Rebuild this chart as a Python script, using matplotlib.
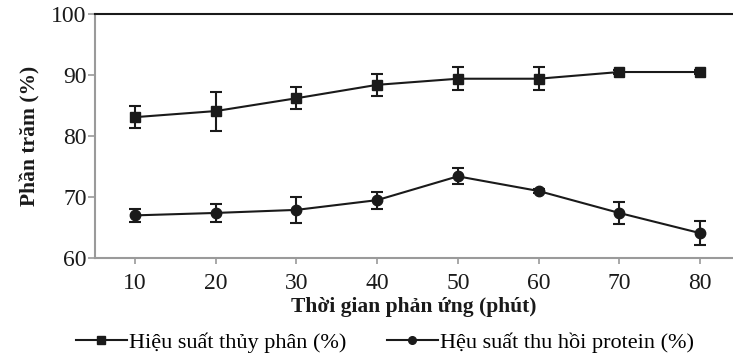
import matplotlib
matplotlib.use("Agg")
import matplotlib.pyplot as plt
from matplotlib.lines import Line2D

plt.rcParams['font.family'] = ['Liberation Serif', 'DejaVu Serif']

# data
times = [10, 20, 30, 40, 50, 60, 70, 80]
hydrolysis = [83.1, 84.1, 86.2, 88.4, 89.4, 89.4, 90.5, 90.5]
hydrolysis_err = [1.8, 3.2, 1.8, 1.8, 1.9, 1.9, 0.3, 0.3]
protein = [67.0, 67.4, 67.9, 69.5, 73.4, 71.0, 67.4, 64.1]
protein_err = [1.1, 1.5, 2.1, 1.4, 1.3, 0.4, 1.8, 1.9]

label_h = "Hiệu suất thủy phân (%)"
label_p = "Hệu suất thu hồi protein (%)"

fig = plt.figure(figsize=(7.33, 3.55), dpi=100)
ax = fig.add_axes([0.1296, 0.273, 0.8704, 0.6874])

ink = '#1a1a1a'
ax.errorbar(times, hydrolysis, yerr=hydrolysis_err, color=ink, marker='s', markersize=7,
            linewidth=1.5, elinewidth=1.5, capsize=4, capthick=1.5)
ax.errorbar(times, protein, yerr=protein_err, color=ink, marker='o', markersize=7.5,
            linewidth=1.5, elinewidth=1.5, capsize=4, capthick=1.5)

ax.set_xlim(5.04, 84.1)
ax.set_ylim(60, 100)
ax.set_yticks([60, 70, 80, 90, 100])
ax.set_xticks(times)

for s in ['left', 'bottom']:
    ax.spines[s].set_color('#9a9a9a')
    ax.spines[s].set_linewidth(1.5)
ax.spines['right'].set_visible(False)
ax.spines['top'].set_color(ink)
ax.spines['top'].set_linewidth(1.5)
ax.tick_params(axis='both', colors='#9a9a9a', labelcolor=ink, labelsize=17, direction='out', width=1.2)
ax.tick_params(axis='y', length=5, pad=1)
ax.tick_params(axis='x', length=4, pad=7)

ax.set_ylabel("Phần trăm (%)", fontsize=15.5, fontweight='bold', color=ink, labelpad=8)
ax.set_xlabel("Thời gian phản ứng (phút)", fontsize=15.5, fontweight='bold', color=ink, labelpad=2)

handles = [Line2D([], [], color=ink, marker='s', markersize=5.5, linewidth=1.5),
           Line2D([], [], color=ink, marker='o', markersize=5.5, linewidth=1.5)]
fig.legend(handles, [label_h, label_p], loc='center', bbox_to_anchor=(0.525, 0.035), ncol=2,
           frameon=False, fontsize=16, handlelength=2.3, handletextpad=0.1, columnspacing=1.8,
           borderpad=0, borderaxespad=0)

fig.savefig("out.png", dpi=100)
